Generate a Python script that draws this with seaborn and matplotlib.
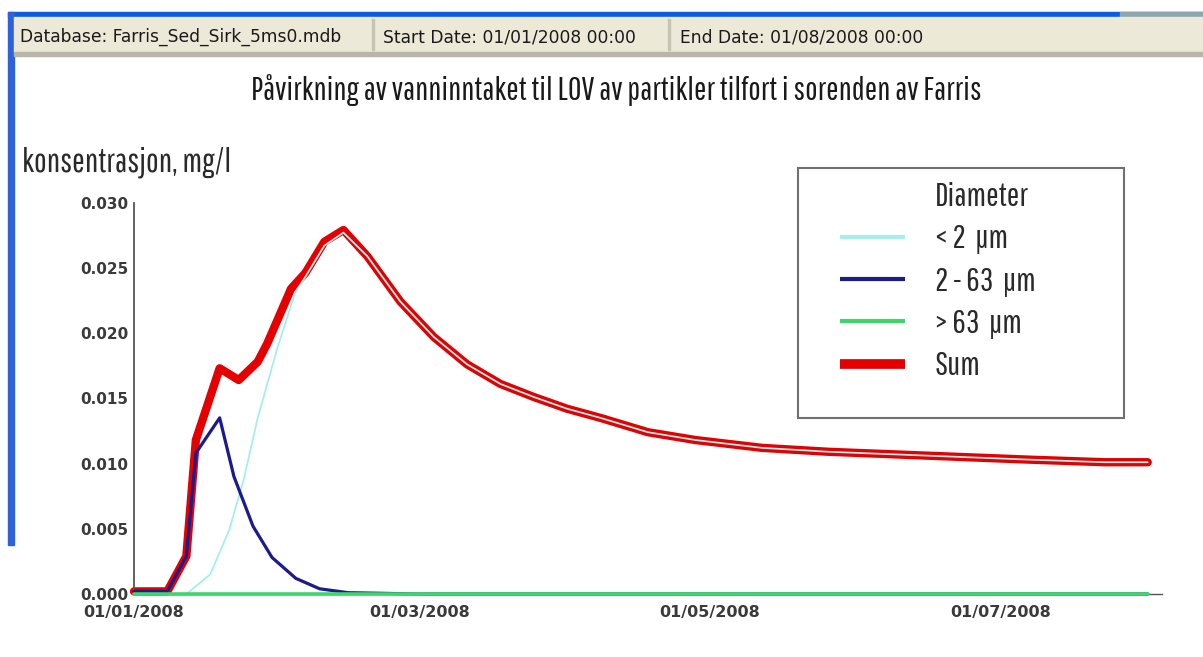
import pandas as pd
import numpy as np
import matplotlib
matplotlib.use("Agg")
import matplotlib.pyplot as plt
import matplotlib.dates as mdates
import matplotlib.font_manager as fm
from matplotlib.lines import Line2D
from matplotlib.patches import Rectangle
import seaborn as sns

# Data (mg/l)
sum_dates = ["2008-01-01", "2008-01-08", "2008-01-12", "2008-01-14", "2008-01-19",
             "2008-01-23", "2008-01-27", "2008-01-29", "2008-02-03", "2008-02-06",
             "2008-02-10", "2008-02-14", "2008-02-19", "2008-02-26", "2008-03-04",
             "2008-03-11", "2008-03-18", "2008-03-25", "2008-04-01", "2008-04-08",
             "2008-04-18", "2008-04-28", "2008-05-12", "2008-05-26", "2008-06-09",
             "2008-06-23", "2008-07-07", "2008-07-23", "2008-08-01"]
sum_vals = [0.0002, 0.0002, 0.0029, 0.0118, 0.0173,
            0.0164, 0.0178, 0.0192, 0.0234, 0.0246,
            0.0270, 0.0279, 0.0259, 0.0224, 0.0197,
            0.0176, 0.0161, 0.0151, 0.0142, 0.0135,
            0.0124, 0.0118, 0.0112, 0.0109, 0.0107,
            0.0105, 0.0103, 0.0101, 0.0101]

fine_dates = ["2008-01-01", "2008-01-12", "2008-01-17", "2008-01-21", "2008-01-24",
              "2008-01-27", "2008-01-31", "2008-02-02", "2008-02-04", "2008-02-06",
              "2008-02-10", "2008-02-14", "2008-02-19", "2008-02-26", "2008-03-04",
              "2008-03-11", "2008-03-18", "2008-03-25", "2008-04-01", "2008-04-08",
              "2008-04-18", "2008-04-28", "2008-05-12", "2008-05-26", "2008-06-09",
              "2008-06-23", "2008-07-07", "2008-07-23", "2008-08-01"]
fine_vals = [0.0, 0.0, 0.0015, 0.0049, 0.0087,
             0.0135, 0.0187, 0.0210, 0.0232, 0.0243,
             0.0267, 0.0277, 0.0259, 0.0224, 0.0197,
             0.0176, 0.0161, 0.0151, 0.0142, 0.0135,
             0.0124, 0.0118, 0.0112, 0.0109, 0.0107,
             0.0105, 0.0103, 0.0101, 0.0101]

mid_dates = ["2008-01-01", "2008-01-08", "2008-01-12", "2008-01-14", "2008-01-19",
             "2008-01-22", "2008-01-26", "2008-01-30", "2008-02-04", "2008-02-09",
             "2008-02-15", "2008-03-01", "2008-08-01"]
mid_vals = [0.0002, 0.0002, 0.0029, 0.0108, 0.0135,
            0.0090, 0.0052, 0.0028, 0.0012, 0.0004,
            0.0001, 0.0, 0.0]

coarse_dates = ["2008-01-01", "2008-08-01"]
coarse_vals = [0.0, 0.0]

series_labels = ["< 2  µm", "2 - 63  µm", "> 63  µm", "Sum"]
series_colors = ["#a6eeee", "#1b1b8e", "#3fd46c", "#e40000"]

title = "Påvirkning av vanninntaket til LOV av partikler tilfort i sorenden av Farris"
ylabel = "konsentrasjon, mg/l"
status = ["Database: Farris_Sed_Sirk_5ms0.mdb", "Start Date: 01/01/2008 00:00",
          "End Date: 01/08/2008 00:00"]

sns.set_style("white")
plt.rcParams["font.family"] = ["DejaVu Sans"]

# condensed font for title, axis label and legend, with sizes per available font
names = {f.name for f in fm.fontManager.ttflist}
if "Pathway Gothic One" in names:
    cond = "Pathway Gothic One"
    sz_title, sz_ylab, sz_leg, spacing = 23.8, 24.2, 24, 0.37
elif "Liberation Sans Narrow" in names:
    cond = "Liberation Sans Narrow"
    sz_title, sz_ylab, sz_leg, spacing = 20.7, 22, 20, 0.6
else:
    cond = "DejaVu Sans"
    sz_title, sz_ylab, sz_leg, spacing = 16, 17, 15.6, 0.85

df_sum = pd.DataFrame({"date": pd.to_datetime(sum_dates), "val": sum_vals})
df_fine = pd.DataFrame({"date": pd.to_datetime(fine_dates), "val": fine_vals})
df_mid = pd.DataFrame({"date": pd.to_datetime(mid_dates), "val": mid_vals})
df_coarse = pd.DataFrame({"date": pd.to_datetime(coarse_dates), "val": coarse_vals})

fig = plt.figure(figsize=(12.03, 6.57), dpi=100)
fig.patch.set_facecolor("white")
ax = fig.add_axes([134 / 1203, 1 - 594 / 657, 1028 / 1203, (594 - 202.6) / 657])

sns.lineplot(data=df_sum, x="date", y="val", ax=ax, color=series_colors[3],
             linewidth=6.0, zorder=2, clip_on=False)
sns.lineplot(data=df_fine, x="date", y="val", ax=ax, color=series_colors[0],
             linewidth=1.3, zorder=3, clip_on=False)
sns.lineplot(data=df_mid, x="date", y="val", ax=ax, color=series_colors[1],
             linewidth=2.3, zorder=4, clip_on=False)
sns.lineplot(data=df_coarse, x="date", y="val", ax=ax, color=series_colors[2],
             linewidth=2.6, zorder=6, clip_on=False)

ax.set_xlim(pd.Timestamp("2008-01-01"), pd.Timestamp("2008-08-04"))
ax.set_ylim(0, 0.030)
ax.set_xlabel("")
ax.set_ylabel("")

ax.yaxis.set_major_locator(matplotlib.ticker.MultipleLocator(0.005))
ax.yaxis.set_minor_locator(matplotlib.ticker.MultipleLocator(0.0025))
ax.yaxis.set_major_formatter(matplotlib.ticker.FormatStrFormatter("%.3f"))
ax.xaxis.set_major_locator(mdates.MonthLocator(bymonth=[1, 3, 5, 7]))
ax.xaxis.set_major_formatter(mdates.DateFormatter("%d/%m/%Y"))

for s in ["top", "right"]:
    ax.spines[s].set_visible(False)
ax.spines["left"].set_color("#555555")
ax.spines["left"].set_linewidth(1.3)
ax.spines["bottom"].set_color("#555555")
ax.spines["bottom"].set_linewidth(1.0)
ax.spines["bottom"].set_zorder(1)

ax.tick_params(axis="both", which="both", direction="inout", length=6, width=1.2,
               color="#555555", labelcolor="#3a3a3a", labelsize=11)
ax.tick_params(axis="x", labelsize=11.5, pad=5)
ax.tick_params(axis="y", pad=1)
for lab in ax.get_xticklabels() + ax.get_yticklabels():
    lab.set_fontweight("bold")

# legend
ax.add_patch(Rectangle((798 / 1203, 1 - 418 / 657), 326 / 1203, 250 / 657,
                       transform=fig.transFigure, facecolor="white",
                       edgecolor="#707070", linewidth=1.5, zorder=0.5, clip_on=False))
handles = [Line2D([], [], color="none")]
widths = [3.0, 3.0, 3.0, 7.0]
for c, w in zip(series_colors, widths):
    handles.append(Line2D([], [], color=c, linewidth=w, solid_capstyle="butt"))
labels = ["Diameter"] + series_labels
hl = 65 / (sz_leg * 100 / 72)
tp = 30 / (sz_leg * 100 / 72)
leg = ax.legend(handles, labels, loc="upper left",
                bbox_to_anchor=(840 / 1203, 1 - 182 / 657),
                bbox_transform=fig.transFigure, frameon=False, borderpad=0,
                borderaxespad=0, handlelength=hl, handletextpad=tp,
                labelspacing=spacing, prop=dict(size=sz_leg, family=cond))
leg.set_zorder(10)
for t in leg.get_texts():
    t.set_color("#2a2a2a")

fig.text(616 / 1203, 1 - 90 / 657, title, ha="center", va="center",
         fontsize=sz_title, color="#1a1a1a", family=cond)
fig.text(22 / 1203, 1 - 162 / 657, ylabel, ha="left", va="center",
         fontsize=sz_ylab, color="#2a2a2a", family=cond)

# window frame of the screenshot
fig.patches.append(Rectangle((8 / 1203, 1 - 17 / 657), 1195 / 1203, 5 / 657,
                             transform=fig.transFigure, color="#0a5ce0", zorder=0))
fig.patches.append(Rectangle((1120 / 1203, 1 - 17 / 657), 83 / 1203, 5 / 657,
                             transform=fig.transFigure, color="#8aa8b0", zorder=0))
fig.patches.append(Rectangle((8 / 1203, 1 - 545 / 657), 6 / 1203, 533 / 657,
                             transform=fig.transFigure, color="#2d62d8", zorder=0))
fig.patches.append(Rectangle((14 / 1203, 1 - 52 / 657), 1189 / 1203, 35 / 657,
                             transform=fig.transFigure, color="#ece9d8", zorder=0))
fig.patches.append(Rectangle((14 / 1203, 1 - 56 / 657), 1189 / 1203, 4 / 657,
                             transform=fig.transFigure, color="#b8b5a8", zorder=0))
for xs in [372, 668]:
    fig.patches.append(Rectangle((xs / 1203, 1 - 50 / 657), 1.5 / 1203, 31 / 657,
                                 transform=fig.transFigure, color="#c8c4b4", zorder=0))
for txt, xs in zip(status, [20, 383, 680]):
    fig.text(xs / 1203, 1 - 37 / 657, txt, ha="left", va="center", fontsize=12.3,
             color="#1a1a1a", family="DejaVu Sans")

fig.savefig("out.png", dpi=100)
